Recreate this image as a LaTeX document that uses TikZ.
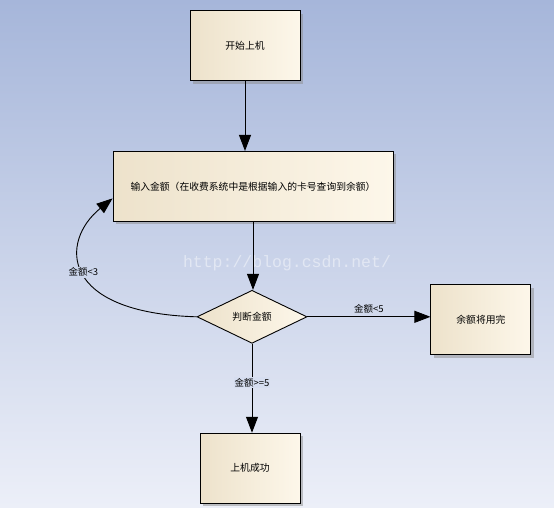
\documentclass[tikz,border=0pt]{standalone}
\usepackage{fontspec}
\newfontfamily\cjk{Noto Sans CJK SC}
\newfontfamily\wmfont{Liberation Mono}
\usepackage{xcolor}
\usetikzlibrary{shapes.geometric, arrows.meta, positioning, shadows}

\definecolor{bgtop}{RGB}{166,182,218}
\definecolor{bgbot}{RGB}{236,239,248}
\definecolor{bgmid}{RGB}{204,214,236}
\definecolor{bglow}{RGB}{214,222,240}
\definecolor{boxl}{RGB}{237,226,203}
\definecolor{boxr}{RGB}{253,247,234}

\begin{document}
\begin{tikzpicture}[
    x=1pt, y=-1pt,
    node distance=70pt and 120pt,
    block/.style={rectangle, draw=black, line width=0.9pt,
                  left color=boxl, right color=boxr,
                  minimum width=#1, minimum height=70pt, align=center,
                  font=\cjk\fontsize{9.8}{12}\selectfont, inner sep=2pt,
                  drop shadow={shadow xshift=3pt, shadow yshift=-3pt, fill=black!45, opacity=0.5}},
    block/.default={100pt},
    decision/.style={diamond, draw=black, line width=0.9pt,
                     left color=boxl, right color=boxr,
                     minimum width=110pt, minimum height=53pt, aspect=2.08, inner sep=0pt,
                     font=\cjk\fontsize{9.8}{12}\selectfont},
    arr/.style={-{Triangle[length=16pt, width=12pt]}, line width=0.9pt, black},
    lbl/.style={font=\cjk\fontsize{9.5}{11}\selectfont, inner sep=1pt}
]

% --- Background ---
\fill[top color=bgtop, bottom color=bgbot] (0,0) rectangle (554,507);
\useasboundingbox (0,0) rectangle (554,507);

% --- Watermark ---
\node[font=\wmfont\fontsize{16.5}{18}\selectfont, text=white, opacity=0.45] (wm) at (287,263) {http://blog.csdn.net/};

% --- Start ---
\node[block=110pt] (start) at (245,45.5) {开始上机};

% --- Input amount ---
\node[block=280pt, below=70pt of start, xshift=8pt] (inp) {输入金额（在收费系统中是根据输入的卡号查询到余额）};

% --- Decision ---
\node[decision, below=68pt of inp, xshift=-1pt] (dia) {判断金额};

% --- Outcomes ---
\node[block, right=123pt of dia, yshift=-3pt] (low) {余额将用完};
\node[block, below=89pt of dia, xshift=-2pt] (ok) {上机成功};

% --- Arrows ---
\draw[arr] (start.south) -- (start.south |- inp.north);
\draw[arr] (inp.south) -- (inp.south |- dia.north);
\draw[arr] (dia.east) -- node[lbl, above=2pt] {金额<5} (dia.east -| low.west);
\draw[arr] (dia.south) -- node[lbl, pos=0.44, fill=bglow] {金额>=5} (dia.south |- ok.north);

% --- Loop back ---
\draw[arr] (dia.west) .. controls +(-137,-4) and +(-53,43) .. node[lbl, pos=0.5, fill=bgmid] {金额<3} ([yshift=-12pt]inp.west);

\end{tikzpicture}
\end{document}
